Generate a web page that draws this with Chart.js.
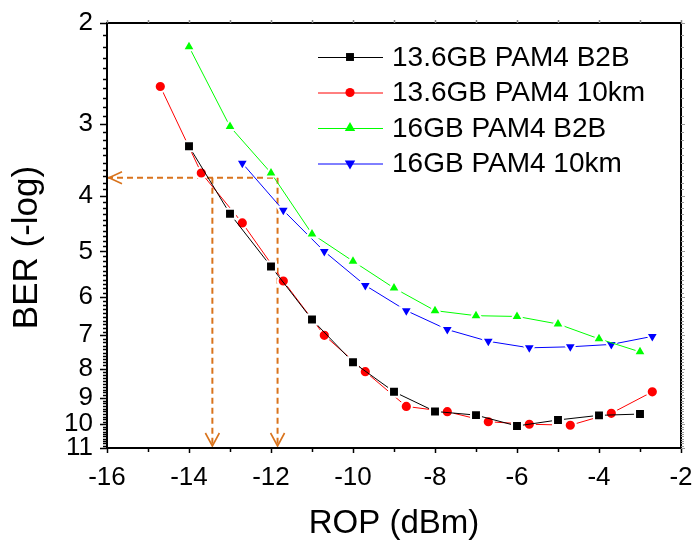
<!DOCTYPE html>
<html><head><meta charset="utf-8">
<script src="https://cdn.jsdelivr.net/npm/chart.js@4/dist/chart.umd.min.js"></script>
<style>html,body{margin:0;padding:0;background:#fff}#wrap{width:697px;height:544px}</style>
</head><body><div id="wrap"><canvas id="c" width="697" height="544"></canvas></div>
<script>
// ---- data ----
const seriesNames = ['13.6GB PAM4 B2B', '13.6GB PAM4 10km', '16GB PAM4 B2B', '16GB PAM4 10km'];
const ropB2B136 = [-14, -13, -12, -11, -10, -9, -8, -7, -6, -5, -4, -3];
const berB2B136 = [3.28, 4.30, 5.31, 6.57, 7.80, 8.78, 9.50, 9.64, 10.07, 9.83, 9.65, 9.60];
const rop10km136 = [-14.7, -13.7, -12.7, -11.7, -10.7, -9.7, -8.7, -7.7, -6.7, -5.7, -4.7, -3.7, -2.7];
const ber10km136 = [2.58, 3.65, 4.46, 5.63, 7.00, 8.10, 9.31, 9.51, 9.90, 10.00, 10.04, 9.57, 8.78];
const ropB2B16 = [-14, -13, -12, -11, -10, -9, -8, -7, -6, -5, -4, -3];
const berB2B16 = [2.20, 3.03, 3.65, 4.66, 5.20, 5.79, 6.34, 6.47, 6.49, 6.69, 7.10, 7.48];
const rop10km16 = [-12.7, -11.7, -10.7, -9.7, -8.7, -7.7, -6.7, -5.7, -4.7, -3.7, -2.7];
const ber10km16 = [3.51, 4.24, 5.00, 5.73, 6.34, 6.84, 7.17, 7.36, 7.33, 7.26, 7.03];
const xTickValues = [-16, -14, -12, -10, -8, -6, -4, -2];
const yTickValues = [2, 3, 4, 5, 6, 7, 8, 9, 10, 11];
const thresholdBER = 3.72;            // dashed horizontal reference
const sensitivityROP = [-13.43, -11.84]; // dashed vertical references
const xRange = [-16, -2];
const yRange = [2, 11];
const xTitle = 'ROP (dBm)';
const yTitle = 'BER (-log)';

// ---- styles ----
const colors = ['#000000', '#ff0000', '#00ff00', '#0000ff'];
const styles = [
  {pointStyle: 'rect', radius: 5.6, rotation: 0},
  {pointStyle: 'circle', radius: 4.6, rotation: 0},
  {pointStyle: 'triangle', radius: 6, rotation: 0},
  {pointStyle: 'triangle', radius: 6, rotation: 180}
];
const haloWidth = 2;
const refColor = '#d9731c';
const FONT = 'Liberation Sans, Arial, sans-serif';

function pts(xs, ys) { return xs.map((x, i) => ({x: x, y: ys[i]})); }
const seriesData = [pts(ropB2B136, berB2B136), pts(rop10km136, ber10km136), pts(ropB2B16, berB2B16), pts(rop10km16, ber10km16)];

const datasets = seriesData.map((d, i) => ({
  label: seriesNames[i], data: d, showLine: true,
  borderColor: colors[i], backgroundColor: colors[i], borderWidth: 1,
  pointStyle: styles[i].pointStyle,
  pointRadius: styles[i].radius + (styles[i].pointStyle === 'rect' ? haloWidth * 0.707 : haloWidth / 2),
  pointRotation: styles[i].rotation,
  pointBackgroundColor: colors[i], pointBorderColor: '#ffffff', pointBorderWidth: haloWidth,
  pointHoverRadius: styles[i].radius,
  order: 1
}));
const refLines = [
  [{x: xRange[0], y: thresholdBER}, {x: sensitivityROP[1], y: thresholdBER}],
  [{x: sensitivityROP[0], y: thresholdBER}, {x: sensitivityROP[0], y: yRange[1]}],
  [{x: sensitivityROP[1], y: thresholdBER}, {x: sensitivityROP[1], y: yRange[1]}]
];
refLines.forEach(d => datasets.push({
  label: '', data: d, showLine: true, borderColor: refColor, borderWidth: 2, borderDash: [6, 4],
  pointRadius: 0, pointHoverRadius: 0, order: 5
}));

function minorY() { const a = []; for (let v = 20; v <= 110; v++) a.push(v / 10); return a; }

const framePlugin = {
  id: 'frame',
  afterDraw(chart) {
    const ctx = chart.ctx, ca = chart.chartArea, xs = chart.scales.x, ys = chart.scales.y;
    ctx.save();
    // arrowheads for reference lines
    ctx.strokeStyle = refColor; ctx.lineWidth = 1.6; ctx.setLineDash([]);
    const ax = xs.getPixelForValue(xRange[0]) + 2, ay = ys.getPixelForValue(thresholdBER);
    ctx.beginPath(); ctx.moveTo(ax + 13, ay - 6); ctx.lineTo(ax, ay); ctx.lineTo(ax + 13, ay + 6); ctx.stroke();
    sensitivityROP.forEach(v => {
      const px = xs.getPixelForValue(v), py = ys.getPixelForValue(yRange[1]) - 2;
      ctx.beginPath(); ctx.moveTo(px - 7, py - 13); ctx.lineTo(px, py); ctx.lineTo(px + 7, py - 13); ctx.stroke();
    });
    // frame
    ctx.strokeStyle = '#000'; ctx.lineWidth = 2;
    ctx.strokeRect(ca.left, ca.top, ca.right - ca.left, ca.bottom - ca.top);
    // x ticks
    ctx.lineWidth = 1.5;
    for (let v = xRange[0]; v <= xRange[1]; v++) {
      const px = Math.round(xs.getPixelForValue(v)) + 0.5;
      const major = xTickValues.includes(v);
      ctx.strokeStyle = '#000';
      ctx.beginPath(); ctx.moveTo(px, ca.bottom); ctx.lineTo(px, ca.bottom + (major ? 5 : 4)); ctx.stroke();
      ctx.strokeStyle = '#888';
      ctx.beginPath(); ctx.moveTo(px, ca.top); ctx.lineTo(px, ca.top - 3); ctx.stroke();
    }
    // y ticks
    minorY().forEach(v => {
      const py = Math.round(ys.getPixelForValue(v)) + 0.5;
      const major = Math.abs(v - Math.round(v)) < 1e-6;
      ctx.strokeStyle = '#000'; ctx.lineWidth = 1.5;
      ctx.beginPath(); ctx.moveTo(ca.left, py); ctx.lineTo(ca.left - (major ? 7 : 4), py); ctx.stroke();
      ctx.strokeStyle = '#999'; ctx.lineWidth = 1;
      ctx.beginPath(); ctx.moveTo(ca.right, py); ctx.lineTo(ca.right + (major ? 4 : 3), py); ctx.stroke();
    });
    // y axis title
    ctx.fillStyle = '#000';
    ctx.font = '35px ' + FONT; ctx.textAlign = 'center'; ctx.textBaseline = 'middle';
    ctx.save(); ctx.translate(27, (ca.top + ca.bottom) / 2 + 12); ctx.rotate(-Math.PI / 2);
    ctx.fillText(yTitle, 0, 0); ctx.restore();
    // legend inside plot
    ctx.font = '28px ' + FONT; ctx.textBaseline = 'middle'; ctx.textAlign = 'left';
    seriesNames.forEach((name, i) => {
      const y = ca.top + 34 + i * 35.5;
      const mx = ca.right - 331;
      ctx.strokeStyle = colors[i]; ctx.lineWidth = 1;
      ctx.beginPath(); ctx.moveTo(ca.right - 363, y + 0.5); ctx.lineTo(ca.right - 298, y + 0.5); ctx.stroke();
      ctx.fillStyle = colors[i];
      const s = styles[i];
      ctx.beginPath();
      if (s.pointStyle === 'rect') { const h = s.radius * Math.SQRT1_2; ctx.rect(mx - h, y - h, 2 * h, 2 * h); }
      else if (s.pointStyle === 'circle') { ctx.arc(mx, y, s.radius, 0, Math.PI * 2); }
      else {
        const r = s.radius, up = s.rotation === 0 ? 1 : -1;
        ctx.moveTo(mx, y - up * r); ctx.lineTo(mx - r * 0.866, y + up * r * 0.5); ctx.lineTo(mx + r * 0.866, y + up * r * 0.5); ctx.closePath();
      }
      ctx.fill();
      ctx.fillStyle = '#000';
      ctx.fillText(name, ca.right - 289, y + 1);
    });
    ctx.restore();
  }
};

new Chart(document.getElementById('c'), {
  type: 'scatter',
  data: {datasets: datasets},
  options: {
    responsive: false, animation: false, devicePixelRatio: 1,
    layout: {padding: {top: 23, right: 16, left: 0, bottom: 0}},
    plugins: {legend: {display: false}, tooltip: {enabled: false}},
    scales: {
      x: {
        type: 'linear', min: xRange[0], max: xRange[1],
        afterBuildTicks: s => { s.ticks = xTickValues.map(v => ({value: v})); },
        afterFit: s => { s.height = 96; s.paddingLeft = 0; s.paddingRight = 0; },
        grid: {display: false, drawTicks: false}, border: {display: false},
        ticks: {font: {family: FONT, size: 26}, color: '#000', padding: 14, maxRotation: 0, autoSkip: false,
          callback: v => String(v)},
        title: {display: true, text: xTitle, color: '#000', font: {family: FONT, size: 33}, padding: {top: 0, bottom: 0}}
      },
      y: {
        type: 'logarithmic', reverse: true, min: yRange[0], max: yRange[1],
        afterBuildTicks: s => { s.ticks = yTickValues.map(v => ({value: v})); },
        afterFit: s => { s.width = 107; s.paddingTop = 0; s.paddingBottom = 0; },
        grid: {display: false, drawTicks: false}, border: {display: false},
        ticks: {font: {family: FONT, size: 26}, color: '#000', padding: 14, autoSkip: false,
          callback: v => String(v)},
        title: {display: false}
      }
    }
  },
  plugins: [framePlugin]
});
</script>
</body></html>
